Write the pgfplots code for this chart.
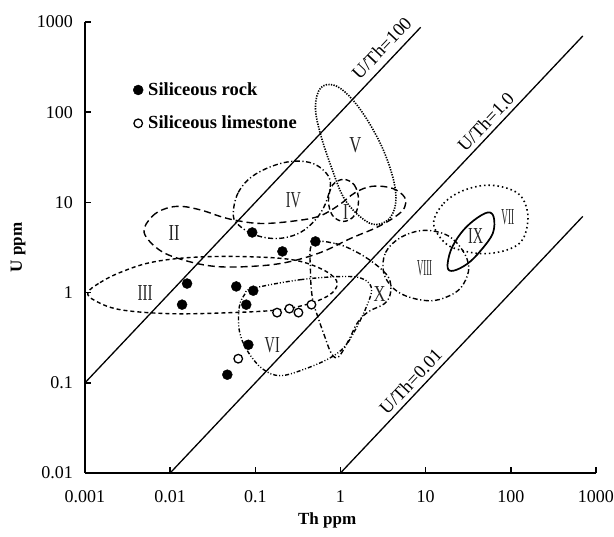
\documentclass[border=0pt]{standalone}
\usepackage{fontspec}
\setmainfont{Liberation Serif}
\usepackage{graphicx}
\usepackage{pgfplots}
\pgfplotsset{compat=1.18}
\pgfplotsset{reg/.style={line width=1.4pt, smooth cycle, tension=0.6, forget plot}}

% condensed roman numerals, width then text
\newcommand{\rn}[2]{\resizebox{#1}{15pt}{#2}}

\begin{document}
\begin{tikzpicture}[
  fld/.style={font=\fontsize{18.5}{18.5}\selectfont, rotate=46.6, inner sep=1pt},
  rlab/.style={text=black!85, inner sep=0pt},
]
\path[use as bounding box] (-85pt,-64pt) rectangle (529pt,473pt);
\begin{axis}[
  at={(0,0)}, anchor=south west,
  scale only axis, width=511pt, height=451pt,
  clip=false,
  xmode=log, ymode=log,
  xmin=0.001, xmax=1000, ymin=0.01, ymax=1000,
  axis x line*=bottom, axis y line*=left,
  axis line style={line width=1.8pt},
  tick align=inside, major tick length=6pt,
  tick style={line width=1.5pt, black},
  xminorticks=false, yminorticks=false,
  xtick={0.001,0.01,0.1,1,10,100,1000},
  xticklabels={0.001,0.01,0.1,1,10,100,1000},
  ytick={0.01,0.1,1,10,100,1000},
  yticklabels={0.01,0.1,1,10,100,1000},
  ticklabel style={font=\fontsize{18}{18}\selectfont},
  xticklabel style={anchor=north, inner sep=0pt, yshift=-17pt},
  yticklabel style={anchor=east, inner sep=0pt, xshift=-12pt},
  legend style={draw=none, fill=none, at={(axis description cs:0.094,0.870)},
    anchor=north west, font=\fontsize{18.5}{18.5}\selectfont\bfseries, row sep=15pt,
    inner sep=0pt},
  legend cell align=left,
]
% ratio lines
\addplot[line width=1.3pt, forget plot] coordinates {(0.001,0.1) (8.73,873)};
\addplot[line width=1.3pt, forget plot] coordinates {(0.01,0.01) (700,700)};
\addplot[line width=1.3pt, forget plot] coordinates {(1,0.01) (700,7)};

% II
\addplot[reg, dash pattern=on 7pt off 4pt] coordinates {
 (0.00494,4.64) (0.00614,6.99) (0.00897,8.58) (0.0138,9.03) (0.0238,8.15)
 (0.0387,6.99) (0.0597,6.31) (0.1145,5.84) (0.258,6.15) (0.551,6.99)
 (0.947,9.26) (1.50,12.9) (2.38,15.1) (4.09,14.3) (5.66,11.4) (5.66,8.80)
 (4.44,6.99) (2.65,5.27) (1.31,3.98) (0.582,2.78) (0.225,2.15) (0.0873,1.95)
 (0.0338,1.95) (0.0150,2.27) (0.00762,2.93)};
% III
\addplot[reg, dash pattern=on 4pt off 3pt] coordinates {
 (0.00108,1) (0.0015,1.29) (0.00258,1.67) (0.00582,2.15) (0.0172,2.45)
 (0.0666,2.51) (0.258,2.33) (0.582,1.85) (0.897,1.36) (0.805,1)
 (0.469,0.774) (0.197,0.647) (0.0508,0.599) (0.01,0.584) (0.00258,0.647)
 (0.00131,0.815)};
% IV
\addplot[reg, dash pattern=on 5pt off 2.5pt on 1.2pt off 2.5pt] coordinates {
 (0.0551,7.17) (0.0631,12.9) (0.1,20.5) (0.225,27.8) (0.469,27.1) (0.743,18.5)
 (0.703,11.1) (0.536,6.81) (0.338,4.64) (0.186,3.98) (0.103,4.30) (0.0666,5.41)};
% I
\addplot[reg, dash pattern=on 5pt off 3pt] coordinates {
 (1.084,18.0) (1.46,15.5) (1.63,10.5) (1.46,7.17) (1.084,6.15) (0.805,7.17)
 (0.722,10.5) (0.805,15.5)};
% V
\addplot[reg, line width=1.6pt, dash pattern=on 1.3pt off 1.3pt] coordinates {
 (0.582,185) (0.827,200) (1.24,154) (1.97,88.0) (3.12,39.8) (4.20,17.6)
 (4.44,9.75) (3.67,6.47) (2.44,5.70) (1.585,7.36) (1.084,11.4) (0.805,22.7)
 (0.582,57.0) (0.508,114)};
% VI
\addplot[reg, dash pattern=on 4pt off 2pt on 1pt off 2pt on 1pt off 2pt] coordinates {
 (0.0922,1.11) (0.338,1.39) (1.145,1.51) (1.92,1.39) (2.32,1.08) (2.02,0.699)
 (1.585,0.430) (1.145,0.258) (0.763,0.190) (0.388,0.143) (0.197,0.120)
 (0.121,0.143) (0.0805,0.227) (0.0649,0.378) (0.0649,0.699) (0.0762,0.975)};
% X
\addplot[reg, dash pattern=on 5pt off 2.5pt on 1.2pt off 2.5pt] coordinates {
 (0.469,3.50) (0.873,3.50) (1.50,2.86) (2.51,2.10) (3.67,1.47) (3.87,1)
 (3.29,0.755) (2.13,0.615) (1.585,0.464) (1.24,0.293) (0.947,0.194)
 (0.784,0.210) (0.648,0.333) (0.551,0.514) (0.469,0.858) (0.444,1.75)};
% VIII
\addplot[reg, dash pattern=on 5pt off 2.5pt on 1.2pt off 2.5pt] coordinates {
 (3.21,1.67) (3.38,2.78) (5.08,4.08) (9.47,4.89) (18.1,4.30) (27.2,2.93)
 (32.1,1.90) (28.0,1.26) (21.3,0.975) (12.4,0.815) (6.66,0.880) (4.20,1.11)};
% IX
\addplot[reg, line width=1.7pt] coordinates {
 (18.1,1.90) (19.7,2.93) (25.8,4.53) (36.7,6.31) (53.6,7.74) (63.1,6.81)
 (61.4,4.53) (44.4,2.93) (31.2,2.10) (21.3,1.75)};
% VII
\addplot[reg, line width=1.6pt, dash pattern=on 1.5pt off 3pt] coordinates {
 (12.4,5.84) (16.3,9.75) (28.0,13.6) (58.2,15.5) (121,12.6) (158,7.55)
 (142,4.08) (100,3.08) (53.6,2.71) (29.6,2.86) (17.2,3.50)};

% samples
\addplot[only marks, mark=*, mark size=5pt, black] coordinates {
 (0.092,4.64) (0.208,2.86) (0.508,3.69) (0.0158,1.26) (0.0138,0.735)
 (0.0597,1.17) (0.0946,1.05) (0.0783,0.735) (0.0828,0.264) (0.0469,0.123)};
\addlegendentry{\hspace{3pt}Siliceous rock}
\addplot[only marks, mark=*, mark size=4.3pt,
  mark options={fill=white, draw=black, line width=1.3pt}] coordinates {
 (0.063,0.185) (0.18,0.6) (0.251,0.664) (0.321,0.6) (0.456,0.735)};
\addlegendentry{\hspace{3pt}Siliceous limestone}

% region labels
\node[rlab] at (axis cs:1.145,7.74) {\rn{5pt}{I}};
\node[rlab] at (axis cs:0.0111,4.53) {\rn{11pt}{II}};
\node[rlab] at (axis cs:0.00508,1) {\rn{15pt}{III}};
\node[rlab] at (axis cs:0.28,10.5) {\rn{15pt}{IV}};
\node[rlab] at (axis cs:1.50,43.0) {\rn{12pt}{V}};
\node[rlab] at (axis cs:0.158,0.258) {\rn{15pt}{VI}};
\node[rlab] at (axis cs:92.2,6.81) {\rn{13pt}{VII}};
\node[rlab] at (axis cs:9.73,1.85) {\rn{15pt}{VIII}};
\node[rlab] at (axis cs:38.7,4.19) {\rn{15pt}{IX}};
\node[rlab] at (axis cs:2.88,0.975) {\rn{12pt}{X}};

% ratio labels
\node[fld] at (axis cs:3.04,514) {U/Th=100};
\node[fld] at (axis cs:50.8,77.4) {U/Th=1.0};
\node[fld] at (axis cs:6.66,0.103) {U/Th=0.01};

% axis titles
\node[font=\fontsize{17}{17}\selectfont\bfseries]
  at ([yshift=-47pt]axis description cs:0.474,0) {Th ppm};
\node[font=\fontsize{17}{17}\selectfont\bfseries, rotate=90]
  at ([xshift=-67pt]axis description cs:0,0.5) {U ppm};
\end{axis}
\end{tikzpicture}
\end{document}
